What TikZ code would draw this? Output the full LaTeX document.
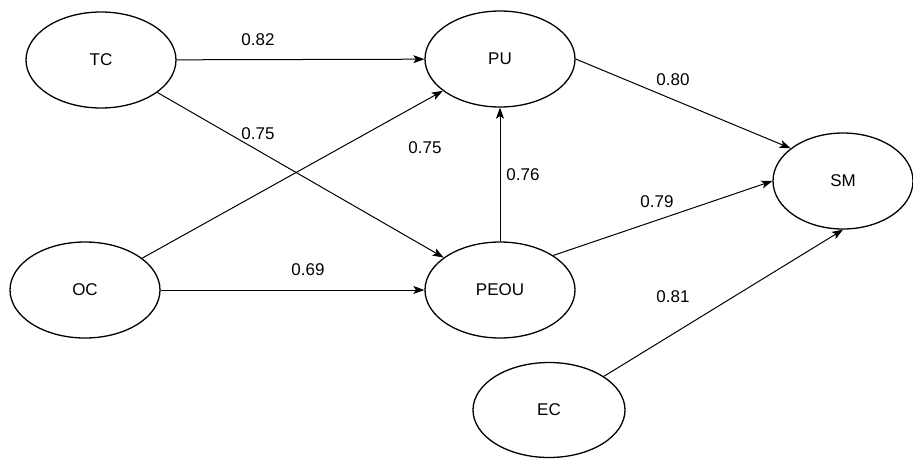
\documentclass[tikz,border=0pt]{standalone}
\usepackage{fontspec}
\setmainfont{Liberation Sans}
\usetikzlibrary{shapes.geometric,arrows.meta}
\begin{document}
\begin{tikzpicture}[x=1pt,y=-1pt,
  construct/.style={ellipse,draw=black,line width=1.3pt,minimum width=150pt,minimum height=96pt,inner sep=0pt,font=\fontsize{17}{19}\selectfont},
  path/.style={draw=black,line width=1pt,-{Stealth[length=11pt,width=8pt,inset=2.5pt]}},
  coef/.style={font=\fontsize{17}{19}\selectfont,inner sep=1pt}]
\fill[white] (0,0) rectangle (913,459);
\useasboundingbox (0,0) rectangle (913,459);
\node[construct] (TC) at (101,60) {TC};
\node[construct] (PU) at (500,59) {PU};
\node[construct,minimum width=140pt] (SM) at (843,181) {SM};
\node[construct] (OC) at (85,290) {OC};
\node[construct] (PEOU) at (500,290) {PEOU};
\node[construct,minimum width=152pt,minimum height=95pt] (EC) at (549,410) {EC};
\draw[path] (TC) -- (PU);
\draw[path] (TC) -- (PEOU);
\draw[path] (OC) -- (PU);
\draw[path] (OC) -- (PEOU);
\draw[path] (PEOU) -- (PU);
\draw[path] (PU.east) -- (SM.148);
\draw[path] (PEOU.33) -- (SM.west);
\draw[path] (EC) -- (SM.south);
\node[coef] (l1) at (258,40) {0.82};
\node[coef] (l2) at (258,134) {0.75};
\node[coef] (l3) at (425,148) {0.75};
\node[coef] (l4) at (308,270) {0.69};
\node[coef] (l5) at (523,175) {0.76};
\node[coef] (l6) at (673,80) {0.80};
\node[coef] (l7) at (657,202) {0.79};
\node[coef] (l8) at (673,297) {0.81};
\end{tikzpicture}
\end{document}
